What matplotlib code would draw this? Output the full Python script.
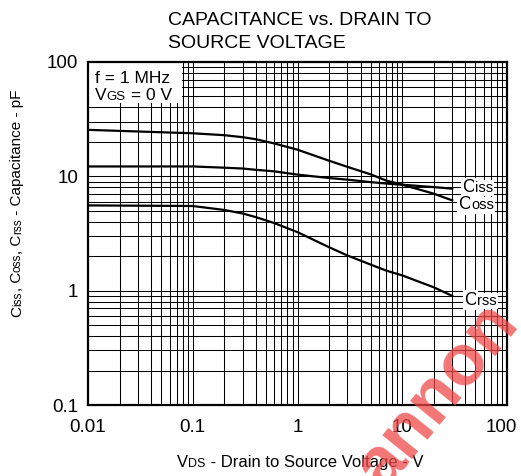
import numpy as np
import matplotlib
matplotlib.use("Agg")
import matplotlib.pyplot as plt
import matplotlib.transforms as mtransforms
from matplotlib.patches import Rectangle
from matplotlib.ticker import LogLocator, FixedLocator, FixedFormatter, NullFormatter

plt.rcParams["font.family"] = ["Liberation Sans", "DejaVu Sans"]

# values (V, pF)
vds = [0.01, 0.1, 0.2, 0.3, 0.4, 0.6, 1, 2, 3, 5, 7, 10, 20, 30]
coss = [25.5, 23.8, 22.9, 22.0, 21.1, 19.4, 17.1, 13.7, 12.1, 10.4, 9.2, 8.45, 7.05, 6.16]
ciss = [12.2, 12.2, 11.9, 11.7, 11.4, 11.06, 10.35, 9.67, 9.35, 8.9, 8.65, 8.45, 8.05, 7.8]
crss = [5.57, 5.5, 5.08, 4.73, 4.4, 3.9, 3.25, 2.4, 2.03, 1.69, 1.5, 1.36, 1.07, 0.9]

x_ticks = [0.01, 0.1, 1, 10, 100]
x_ticklabels = ["0.01", "0.1", "1", "10", "100"]
y_ticks = [0.1, 1, 10, 100]
y_ticklabels = ["0.1", "1", "10", "100"]

fig = plt.figure(figsize=(5.21, 4.76), dpi=100)
ax = fig.add_axes([88 / 521, 71 / 476, 419 / 521, 343 / 476])
renderer = fig.canvas.get_renderer()


def rich(x, y, pieces, transform, rotation=0, ha="left", zorder=4, bbox=None):
    # text made of pieces with different sizes, all on one baseline
    widths = []
    for s, size in pieces:
        t = fig.text(0, 0, s, fontsize=size)
        widths.append(t.get_window_extent(renderer).width)
        t.remove()
    total = sum(widths)
    d = {"left": 0, "center": -total / 2, "right": -total}[ha]
    ang = np.deg2rad(rotation)
    for (s, size), w in zip(pieces, widths):
        tr = mtransforms.offset_copy(transform, fig=fig, x=d * np.cos(ang),
                                     y=d * np.sin(ang), units="dots")
        fig.text(x, y, s, fontsize=size, transform=tr, rotation=rotation,
                 rotation_mode="anchor", ha="left", va="baseline",
                 zorder=zorder, bbox=bbox)
        d += w


ax.set_xscale("log")
ax.set_yscale("log")
ax.set_xlim(0.01, 100)
ax.set_ylim(0.1, 100)

# dense log grid
ax.xaxis.set_major_locator(FixedLocator(x_ticks))
ax.xaxis.set_major_formatter(FixedFormatter(x_ticklabels))
ax.yaxis.set_major_locator(FixedLocator(y_ticks))
ax.yaxis.set_major_formatter(FixedFormatter(y_ticklabels))
ax.xaxis.set_minor_locator(LogLocator(base=10, subs=np.arange(2, 10)))
ax.yaxis.set_minor_locator(LogLocator(base=10, subs=np.arange(2, 10)))
ax.xaxis.set_minor_formatter(NullFormatter())
ax.yaxis.set_minor_formatter(NullFormatter())
ax.grid(True, which="both", color="black", linewidth=0.75)
ax.tick_params(which="both", length=0, labelsize=13.5)
ax.tick_params(axis="x", pad=10)
ax.tick_params(axis="y", pad=7)
for s in ax.spines.values():
    s.set_linewidth(1.6)
    s.set_zorder(5)

# last x tick label sits a bit left of its grid line, as in the original
last = ax.xaxis.get_major_ticks()[-1].label1
last.set_transform(last.get_transform() +
                   mtransforms.ScaledTranslation(-6 / 100, 0, fig.dpi_scale_trans))

ax.plot(vds, coss, color="black", lw=1.6, zorder=3)
ax.plot(vds, ciss, color="black", lw=1.6, zorder=3)
ax.plot(vds, crss, color="black", lw=1.6, zorder=3)

# curve labels
white = dict(boxstyle="square,pad=0.08", fc="white", ec="none")
for sub, ys, dx, dy in [("iss", ciss, 7, -2.4), ("oss", coss, 4.5, -6.5), ("rss", crss, 8.5, -6.5)]:
    tr = mtransforms.offset_copy(ax.transData, fig=fig, x=dx, y=dy, units="points")
    rich(vds[-1], ys[-1], [("C", 13), (sub, 10.5)], tr, bbox=white, zorder=11)

# conditions box
ax.add_patch(Rectangle((0, 1 - 41 / 343), 94 / 419, 41 / 343, transform=ax.transAxes,
                       facecolor="white", edgecolor="none", zorder=2.5))
rich(7 / 419, 1 - 21 / 343, [("f = 1 MHz", 12.5)], ax.transAxes)
rich(7 / 419, 1 - 38 / 343, [("V", 12.5), ("GS", 9.5), (" = 0 V", 12.5)], ax.transAxes)

# title
fig.text(168 / 521, 1 - 25 / 476, "CAPACITANCE vs. DRAIN TO", fontsize=14, va="baseline")
fig.text(168 / 521, 1 - 48 / 476, "SOURCE VOLTAGE", fontsize=14, va="baseline")

# axis labels
rich(300 / 521, 1 - 467 / 476, [("V", 12), ("DS", 9), (" - Drain to Source Voltage - V", 12)],
     fig.transFigure, ha="center")
rich(21 / 521, 1 - 203 / 476,
     [("C", 11), ("iss", 8.5), (", C", 11), ("oss", 8.5), (", C", 11), ("rss", 8.5),
      (" - Capacitance - pF", 11)],
     fig.transFigure, rotation=90, ha="center")

# watermark
fig.text(384 / 521, 1 - 492 / 476, "annon", color="#f04848", alpha=0.75,
         fontsize=52, fontweight="bold", rotation=51, rotation_mode="anchor",
         ha="left", va="baseline", zorder=10)

fig.savefig("out.png", dpi=100)
